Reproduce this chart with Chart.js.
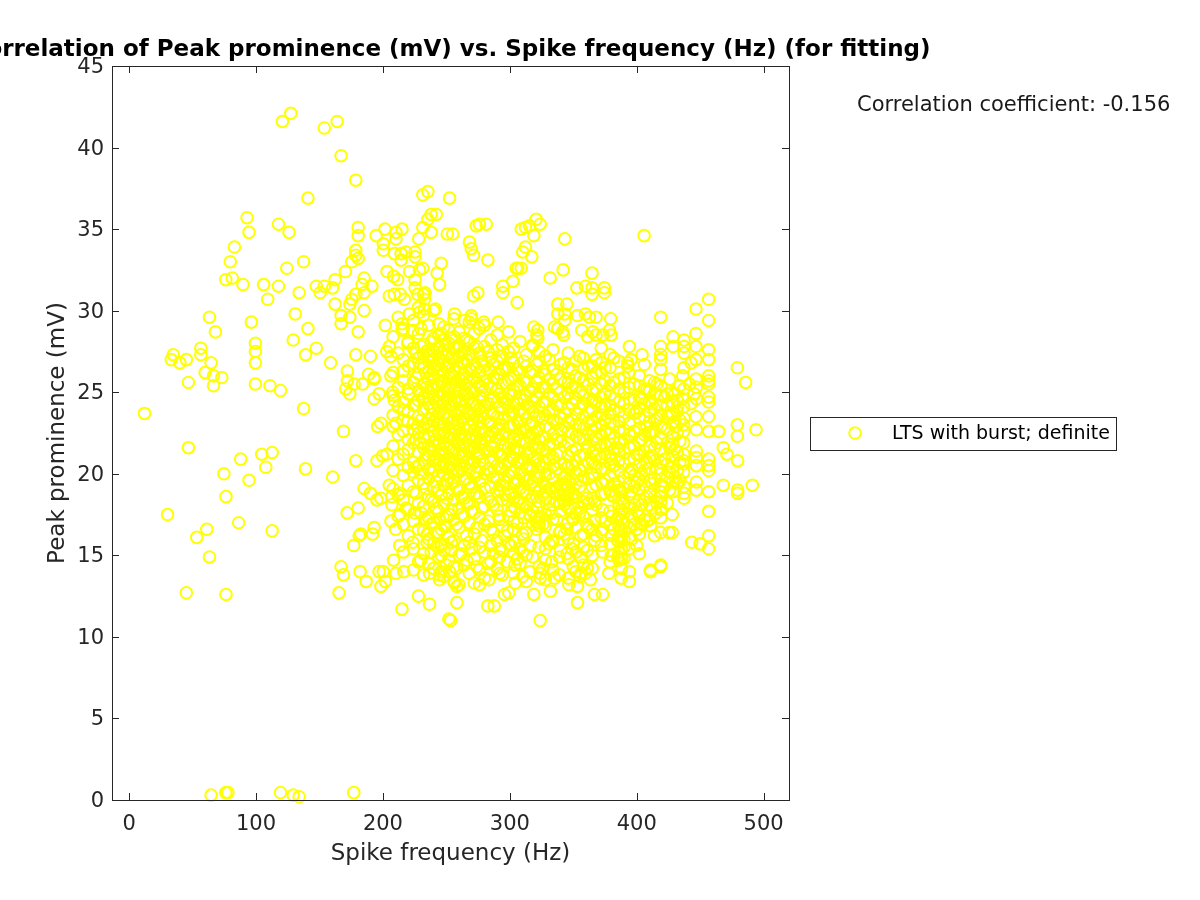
<!DOCTYPE html>
<html><head><meta charset="utf-8">
<style>html,body{margin:0;padding:0;background:#fff}canvas{display:block}</style>
<script src="https://cdn.jsdelivr.net/npm/chart.js@4/dist/chart.umd.min.js"></script>
</head><body><canvas id="c" width="1200" height="900"></canvas>
<script>
const chartTitle = 'Correlation of Peak prominence (mV) vs. Spike frequency (Hz) (for fitting)';
const xLabel = 'Spike frequency (Hz)';
const yLabel = 'Peak prominence (mV)';
const seriesName = 'LTS with burst; definite';
const corrText = 'Correlation coefficient: -0.156';
const xTicks = [0,100,200,300,400,500];
const yTicks = [0,5,10,15,20,25,30,35,40,45];

// Scattered points at the outside of the cloud: [frequency, prominence]
const outerUpperLeft = [[127.4,42.1],[120.8,41.6],[153.8,41.2],[163.9,41.6],[167,39.5],[178.6,38],[140.9,36.9],[231.4,37.1],[235.4,37.3],[252.5,36.9],[92.9,35.7],[94.5,34.8],[117.7,35.3],[126,34.8],[83,33.9],[79.7,33],[137.5,33],[124.3,32.6],[76.2,31.9],[81.3,32],[89.7,31.6],[106,31.6],[117.7,31.5],[109.2,30.7],[134,31.1],[130.9,29.8],[140.9,28.9],[96.3,29.3],[63.3,29.6],[68,28.7],[99.5,28],[99.5,27.5],[99.5,26.8],[129.3,28.2],[147.5,27.7],[139,27.3],[158.8,26.8],[178.6,27.3],[190.2,27.2],[56.5,27.7],[56.5,27.3],[34.8,27.3],[33.2,27],[40,26.8],[45.1,27],[64.6,26.8],[59.9,26.2],[66.5,26],[73,25.9],[46.7,25.6],[66.5,25.4],[99.5,25.5],[111,25.4],[119.3,25.1],[137.5,24],[12.1,23.7],[168.9,22.6]];
const outerUpperMid = [[147.5,31.5],[150.6,31.1],[153.8,31.5],[160.4,31.4],[162.3,31.9],[170.4,32.4],[175.5,33],[178.6,33.7],[178.6,33.4],[180.5,33.2],[180.5,35.1],[180.5,34.6],[194.7,34.6],[201.6,35],[200.3,34.1],[200.3,33.7],[210.3,34.8],[210.3,34.4],[215,35],[228.2,34.4],[231.4,35.1],[235.4,35.6],[238,35.9],[242,35.9],[238,34.8],[250.7,34.7],[185.2,32],[191.3,31.5],[185.2,31.1],[178.6,31],[175.5,30.7],[173.9,30.4],[162.3,30.4],[167,29.7],[173.9,29.6],[167,29.2],[180.5,28.7],[185.2,30],[201.8,29.1],[183.6,31.6],[215,29.2],[215,28.8],[223.5,28.8],[219.5,28],[230,28.9],[241.4,30.1],[203.2,32.4],[208.4,32.1],[211.6,31.9],[205,30.9],[209,31],[213.7,31],[216.9,30.7],[220.8,29.8],[228.8,29.9],[232.7,30.1],[225.3,31.9],[225.3,31.4],[233.2,31.1],[227.4,31],[232.7,30.7],[245.9,32.9],[242.7,32.3],[244.6,31.6],[231.4,32.6],[228.8,32.5],[221,32.4],[209,33.5],[214.3,33.5],[218.2,33.6],[225.3,33.6],[225.3,33.3],[214.3,33.1],[205,27.8],[203,27.5],[206.3,27.2],[172,26.3],[172,25.7],[177.3,25.5],[183.9,25.5],[170.7,25.2],[173.9,24.9],[188.7,26.1],[193.1,25.9],[193.1,25.8],[193.1,24.6],[197,24.9],[209,24.5],[207.7,25],[206.3,26],[216.4,23.9],[198.4,23.1],[195.8,22.9],[210.3,23.1],[219.5,23.2],[227.4,22.9]];
const outerLowerLeft = [[46.7,21.6],[74.7,20],[87.9,20.9],[104.5,21.2],[112.7,21.3],[107.7,20.4],[94.5,19.6],[139,20.3],[160.4,19.8],[76.3,18.6],[178.6,20.8],[195.3,20.8],[199.7,21.1],[203.2,21.2],[30.3,17.5],[61.2,16.6],[53.3,16.1],[86.3,17],[112.7,16.5],[63.3,14.9],[45.1,12.7],[76.3,12.6],[64.6,0.3],[76.2,0.45],[77.8,0.45],[119.3,0.45],[129.3,0.3],[134,0.2],[177,0.45],[185.2,19.1],[190.2,18.8],[205,19.3],[195.3,18.4],[198.4,18.5],[207,18.6],[207,18.1],[213.4,18.8],[180.5,17.9],[171.8,17.6],[218.2,17.9],[213.7,17.5],[224.8,17.6],[206.3,17.1],[210,16.6],[193.1,16.7],[191.8,16.3],[182.6,16.3],[181.3,16.2],[177,15.6],[213.2,15.6],[223.5,15.8],[234.8,16.3],[234.8,15.8],[208.4,14.7],[167,14.3],[168.9,13.8],[182,14],[197,14],[200.2,14],[210.3,13.9],[216.4,14],[201.8,13.4],[198.4,13.1],[186.8,13.4],[165.4,12.7],[229.8,14.7],[236.7,13.9],[245.9,14],[244.6,13.8],[244.6,13.5],[228,12.5],[236.7,12],[215,11.7],[252,11.1],[245.9,15.6],[243.3,15.5],[245.9,15],[253.8,15.3],[252.5,14],[256.5,13.3],[238,16.9],[244.6,17.2],[249.9,16.8],[245.9,16.6]];
const outerUpperRight = [[255,34.7],[276,35.3],[273.5,35.2],[281.4,35.3],[268.2,34.2],[269.6,33.8],[271.4,33.4],[282.7,33.1],[309,35],[312.3,35.1],[315.5,35.2],[320.7,35.6],[323.9,35.3],[318.9,34.6],[343.3,34.4],[405.8,34.6],[312.3,33.9],[310.2,33.6],[317.3,33.3],[306.3,32.6],[305,32.6],[309,32.6],[302.4,31.8],[294.5,31.5],[294.5,31.1],[274.8,31.1],[271.4,30.9],[305.8,30.5],[331.8,32],[342,32.5],[364.8,32.3],[352.8,31.4],[359.6,31.5],[364.8,31.4],[364.8,31],[374.5,31.4],[374.5,31.1],[337.8,30.4],[344.9,30.4],[337.8,29.8],[343.3,29.8],[343.3,29.4],[353.3,29.7],[359.6,29.8],[362.7,29.6],[368,29.6],[379.5,29.5],[418.9,29.6],[446.7,30.1],[456.7,30.7],[456.7,29.4],[256.4,29.8],[269.6,29.7],[264.3,29.4],[269.6,29.5],[279.5,29.3],[290.8,29.3],[318.9,29],[322,28.8],[321.3,28.5],[322,28.3],[318.1,27.9],[335.2,29],[337.8,28.9],[341.7,28.7],[342.5,28.5],[356.7,28.8],[378.5,28.8],[379.8,28.5],[365.4,28.7],[361.4,28.4],[368,28.5],[373.2,28.5],[428.6,28.4],[437.3,28.2],[437.3,27.8],[437.3,27.4],[446.7,28.6],[446.7,27.8],[456.7,27.6],[456.7,27],[428.6,27.8],[418.9,27.8],[418.9,27.3],[418.9,27],[418.9,26.4],[394.2,27.8],[404.2,27.3],[395.5,27],[392.9,26.8],[392.9,26.6],[446.7,27],[442.8,26.8],[437.3,26.5],[436.2,26],[446.7,25.8],[456.7,26],[456.7,25.7],[456.7,25.5],[479.3,26.5],[485.8,25.6],[479.3,23],[479.3,22.3],[494,22.7],[456.7,24.7],[456.7,24.4],[456.7,23.5],[446.7,23.5],[456.7,22.6],[464.6,22.6],[441.5,25.5],[445.4,24.9],[442.8,24.3],[436.2,24.6],[432.3,24.1],[437.3,23.4],[431,22.9]];
const outerLowerRight = [[468.2,21.6],[471.1,21.2],[479.5,20.8],[456.7,20.9],[456.7,20.5],[456.7,20.2],[468.2,19.3],[479.5,19],[479.5,18.8],[491.1,19.3],[456.7,18.9],[456.7,17.7],[456.7,16.2],[456.7,15.4],[443.3,15.8],[449.9,15.7],[437.3,19.2],[437.3,18.8],[437.3,18.5],[428.6,18.9],[418.9,18.6],[418.9,18.9],[418.9,17.3],[415.2,17.6],[410.8,16.8],[418.9,16.4],[425.5,16.4],[418.9,14.4],[418.9,14.3],[410.8,14.1],[410.8,14],[394.2,14],[394.2,13.4],[387.7,13.6],[378,13.9],[373.2,12.6],[366.7,12.6],[353.3,12.1],[363.5,13.5],[359.6,13.9],[354.9,13.7],[353.3,13.1],[346.5,13.2],[332,12.8],[335.2,13.6],[318.9,12.6],[323.9,11],[323.9,13.9],[323.9,13.6],[304.2,13.3],[299.2,12.7],[295.8,12.6],[287.7,11.9],[282.7,11.9],[258.3,12.1],[253.3,11],[258.3,13.1],[276.1,13.2],[283.5,13.5]];

// Dense core of the cloud, read column by column: one frequency, many prominences
const coreFreqs = [208,212,216,220,224,228,232,236,240,244,248,252,256,260,264,268,272,276,280,285,290,294,299,303,308,313,318,323,328,334,340,346,352,358,365,372,379,386,390,394,402,410,419,428,437,447];
const coreProms = [
[28.4,26.2,24.8,23.6,22.9,21.7,20.2,19.1],
[29.6,27.4,25.3,24.1,22.4,20.9,18.7,17.4],
[28.9,27,26.3,25.7,24.4,23.3,22.6,21.2,19.9,18.4,16.9,15.2],
[28.1,26.6,25.2,24.9,23.8,22.1,21.5,20.4,19.3,17.8,16.2],
[29.4,27.7,26.8,25.6,24.2,23.1,22.7,21.9,20.7,20.1,18.9,17.1,15.4,14.1],
[30.2,28.6,27.1,26.1,25.1,24.5,23.5,22.5,21.3,20.5,19.6,18.2,16.6,14.6],
[31,29.7,27.9,27.3,26.5,25.5,24.7,23.9,22.8,22.2,21.6,20.8,19.4,18,16.5,15.1,13.8],
[29.1,27.6,27.2,26.9,26.3,25.8,25,24.3,23.4,22.9,22.3,21.7,21.1,20.3,19.7,18.6,17.3,16,14.5],
[30,28.3,27.5,27,26.4,25.9,25.2,24.6,24,23.2,22.6,22,21.4,20.9,20.2,19.2,18.3,17,15.7,14.2],
[29.2,28.5,27.8,27.1,26.7,26,25.4,24.8,24.1,23.7,23,22.4,21.8,21.2,20.6,19.9,19,17.7,16.4,14.9],
[29,28.2,27.6,26.9,26.2,25.7,25,24.4,23.6,23.1,22.5,21.9,21.3,20.7,20,19.3,18.1,16.8,15.3,13.7],
[28.8,28,27.4,26.6,25.9,25.3,24.7,24.2,23.5,22.8,22.2,21.6,21,20.4,19.8,18.8,17.5,16.1,14.7],
[29.5,28.4,27.7,27,26.3,25.6,25.1,24.5,23.8,23.3,22.7,22.1,21.5,20.8,20.3,19.5,18.4,17.2,15.9,14.3,13.4],
[28.7,27.9,27.2,26.5,25.8,25.2,24.4,23.9,23,22.4,21.8,21.3,20.6,20.1,19,17.9,16.7,15,13.2],
[28.3,27.5,26.8,26.1,25.5,24.9,24.1,23.4,22.8,22.3,21.7,21.1,20.5,19.6,18.5,17.4,15.6,14.4],
[29.3,28.1,27.3,26.4,25.6,24.6,23.7,22.9,22.2,21.4,20.9,20.2,19.4,18.2,17,15.8,13.9],
[28.6,27.7,26.7,25.9,25,24.3,23.6,22.7,22,21.6,20.7,19.8,18.7,17.6,16.3,14.8,13.3],
[28.9,27.4,26.2,25.4,24.8,24,23.2,22.5,21.9,21.2,20.4,19.5,18.6,17.3,15.5,14.1],
[29.1,27.8,26.6,25.7,25.1,24.2,23.4,22.6,22.1,21.5,20.6,20,19.1,18,16.9,15.2,13.6],
[28.2,27.1,26.3,25.3,24.5,23.8,23.1,22.3,21.7,20.8,20.1,19.2,18.3,16.6,15.6,14.6],
[28.5,27.6,26.9,25.8,25.2,24.4,23.5,22.8,22.2,21.3,20.5,19.7,18.9,17.8,15.9,14.2],
[27.9,27.2,26.4,25.5,24.7,24,23.3,22.4,21.8,21.1,20.3,19.3,18.4,16.8,15.3,13.8],
[28.7,27.5,26.5,25.7,24.9,24.1,23.6,22.9,22.3,21.6,20.7,19.9,18.7,17.4,15.7],
[27.7,26.8,26,25.1,24.3,23.7,23,22.2,21.5,21,20.2,19.4,18.5,17.1,16.6,15.1,13.9],
[28.1,26.2,25.4,24.6,23.9,23.2,22.7,22,21.4,20.8,20,19.1,18.2,17.6,15.4,14.5],
[27.3,26.6,25.6,24.8,24.2,23.4,22.6,21.9,21.2,20.4,19.6,18.8,18,16.4,15,13.4],
[27.8,26.3,25.2,24.5,23.8,23.1,22.5,21.7,20.9,20.3,19.5,18.6,17.7,16.9,14.9],
[27.5,26.9,25.9,25,24.1,23.5,22.8,22.1,21.6,20.6,19.8,19,18.3,17.3,16.8,17,15.5,14.3],
[27.2,26.1,25.3,24.4,23.6,22.9,22.2,21.4,20.7,19.9,19.2,18.5,17.5,16.1,14.7],
[27.6,26.4,25.5,24.7,23.9,23.3,22.4,21.8,21,20.5,19.7,18.9,18.1,17.2,15.8,14.1],
[26.7,25.8,25,24.2,23.4,22.7,22,21.3,20.6,20,19.3,18.7,18.2,17.7,16.5,15.3],
[27.4,26.5,25.6,24.9,24,23.2,22.6,21.9,21.1,20.4,19.6,19.1,18.8,18.4,17.9,17,16,14.8,13.6],
[26.9,26,25.3,24.6,23.7,23,22.3,21.5,20.8,20.1,19.4,18.6,17.6,16.7,15.2,14],
[27.1,26.4,25.7,24.8,24.3,23.5,22.8,22.1,21.2,20.5,19.8,18.3,17.4,16.3,15.5,14.4],
[26.6,25.9,25.1,24.5,23.9,23.3,22.7,22,21.3,20.7,20,19.2,18.5,17.8,16.6,15,14.2],
[27.7,26.8,26.2,25.5,24.7,24.1,23.6,23,22.4,21.7,21,20.3,19.5,18.7,17.3,16.4,15.6],
[27.3,26.5,25.4,24.8,24.2,23.7,23.1,22.5,21.8,21.1,20.6,19.9,18.9,17.7,16.9,15.7,14.6],
[26.9,25.8,25.2,24.4,23.8,23.2,22.6,21.9,21.4,20.8,20.2,19.5,19,18.5,18,17.5,16.8,16.2,15.8,15.2,14.7],
[25.9,25,24.3,23.5,22.7,22.1,21.3,20.6,19.8,19.1,18.2,17.6,17,16.5,16,15.5,14.8],
[26.2,25.3,24.6,23.9,23.1,22.4,21.6,20.9,20.1,19.4,18.7,17.9,16.7,16.1,15.4],
[26,25.4,24.7,24,23.4,22.8,22,21.2,20.5,19.7,19,18.4,17.4,16.3,15.1],
[25.7,25.1,24.5,23.8,23.2,22.5,21.7,21,20.3,19.6,18.9,18.1,17.2],
[25.4,24.8,24.2,23.6,22.9,22.2,21.5,20.7,20,19.3,18.3,17.8],
[25,24.4,23.7,23.1,22.3,21.8,21.1,20.4,19.5,17.5,16.4],
[25.2,24.1,23,22.6,21.9,21.2,20.8,20.6,20.1],
[25.3,24.6,22.7,21.4,21,20.5,19.5,19]
];
// Second reading of the core between the columns above
const fillFreqs = [226,230,234,238,242,246,250,254,258,262,266,270,274,278,283,287,292,296,301,306,311,316,321,326,331,337,343,349,355,362,368,375,382,398,406,414,424,432];
const fillProms = [
[27.4,25.9,24.2,22.1,20.4,18.8],
[27.8,26.7,24.9,23.3,21.9,20,17.6],
[27.5,26.2,25.3,23.1,21.2,19.1,17.2],
[28.1,27.3,26.1,25.4,24.1,23,21.5,20.1,18.4,15.2],
[27.7,26.6,25.5,24.4,23.5,22.1,21,19.5,17.9,16.4],
[28.6,27.4,26.4,25.6,24.9,23.9,22.7,21.5,20.4,18.7,15.7],
[27.9,27.2,26.5,25.2,24.6,23.4,22.3,21.7,20.5,19.6,18.5,17.4,14.4],
[28.3,27.1,26.1,25.5,24.3,23.2,22.4,21.4,20.6,19.4,17.8,15.8],
[27.7,26.6,25.4,24.7,23.6,22.6,21.9,20.9,20.2,19.1,16.9,14.2],
[27.4,26.8,25.7,24.5,23.9,22.5,22.1,21.1,20.3,18.6,17.5,15.1],
[28.2,27,25.9,24.9,23.7,22.7,21.6,20.7,19.7,18.2,16.2,14.7],
[27.3,26.3,25.1,24.4,23.3,22.4,21.5,20.6,19.2,17.7,15.4],
[27.8,26.5,25.6,24.2,23.5,22.2,21.2,20.1,18.8,16.7,14.3],
[26.9,25.3,24.6,23.8,22.8,21.9,20.8,19.6,17.9,15.9],
[27.5,26.4,25.5,24.3,23.1,22.3,21.4,20.3,18.5,17.1,14.5],
[26.7,25.9,24.7,23.6,22.6,21.6,20.9,19.8,18.1,16.4,15.1],
[27.2,26.1,24.9,24.1,23,22.1,21.1,20.4,19,17.4,14.9],
[26.5,25.6,24.4,23.4,22.5,21.7,20.6,19.5,18.7,16.2],
[27.1,25.8,24.8,23.8,22.9,21.8,21,20.1,18.8,17.7,15.6],
[26.4,25.4,24.3,23.2,22.4,21.5,20.7,19.6,18.3,17,14.8],
[26.9,25.7,24.5,23.7,22.7,21.9,20.9,19.7,18.9,17.3,16],
[26.2,25.1,24.1,23,22.2,21.3,20.5,19.3,18.4,17.5],
[26.7,25.6,24.7,23.6,22.6,21.6,20.8,19.8,18.6,17.9,17.4,17,16.6],
[26.3,25.3,24.4,23.4,22.3,21.5,20.4,19.5,18.7,16.9,14.2],
[27,25.8,24.9,23.8,22.8,21.8,20.9,20,19.1,17.8,15.7],
[26.1,25.2,24.2,23.1,22.1,21.2,20.3,19.2,18.3,17.2],
[26.8,25.6,24.7,23.7,22.9,21.7,20.6,19.8,19.4,19,18.7,18.4,18.1,16.3],
[26.4,25.3,24.3,23.3,22.5,21.4,20.5,19.6,18.5,17.3,15.4],
[27.2,25.9,25,24,23,22.2,21.1,20.2,19.2,17.6],
[26.6,25.5,24.6,23.8,23.2,22.4,21.6,20.7,19.7,18.2,16.7],
[27,26.2,25.2,24.4,23.5,22.8,22.3,21.9,21.5,21.1,20.4,19.3,18.1,16.2],
[26.5,25.7,24.9,24.1,23.3,22.6,21.8,21.2,20.3,19.6,18.8,17.1],
[27.1,25.6,24.6,23.9,23,22.2,21.5,20.5,19.4,18.6,16.6],
[25.5,24.5,23.7,22.6,21.7,20.9,19.9,19.2,18.1,16.9],
[26.7,25.2,24.3,23.5,22.4,21.4,20.2,19.3,18.5,17.2],
[25.6,24.9,24,23.3,22.6,21.6,20.8,19.7,18.6,16.2],
[24.9,24.2,23.5,22.7,21.9,20.6,19.8,18.2],
[24.5,23.8,22.5,21.3,20.2,19.4]
];
// Third reading: the lower and right parts of the cloud
const lowerFreqs = [292,298,304,310,316,328,333,339,345,350,356,361,367,373,380,385,388,396,400,404,408,412,416,422,426,430,434];
const lowerProms = [
[19.3,17.2,15.4,13.9],[18.4,16.5,14.6],[19.5,17.9,15.8,14.4],[18.1,16.3,15.2,13.7],[19.7,17.4,15.6,14],
[18.9,16.8,15.4,13.5],[19.1,17.6,15.9,14.6],[18.2,16.4,14.9,13.8],[20.4,19.9,19.3,18.6,16.6,15.1],[18.8,17.2,15.7,14.3],
[19.6,17.9,16.2,14.9,13.9],[18.5,16.9,15.3,14.2],[20.6,18.3,17.1,15.9],[19.4,17.8,16.6,15.2],[20.9,18.7,17.4,16.2,15],
[21.6,19.2,17.3,15.9,14.9],[18.9,18.4,17.8,17.2,16.6,16,15.4,14.8,14.2],[22.3,20.3,18.9,17.4,16],[23.8,21.2,19.5,17.7,16.6,15.6],[24.6,22.1,20,18.1,16.9],
[25.2,22.9,20.7,18.6,17.1],[24.3,22.6,21.1,19.4,17.9],[25.5,23.4,21.9,20.3,18.2],[24.7,22.8,20.9,19.2],[25.8,23.6,21.6,20.1,19],[24.9,23.2,21.5,19.8],[25.4,23.3,22,20.7,19.6]
];

const outerPoints = [...outerUpperLeft, ...outerUpperMid, ...outerLowerLeft, ...outerUpperRight, ...outerLowerRight];
const columnPoints = (freqs, proms) => freqs.flatMap((f, i) => proms[i].map(p => ({x: f, y: p})));
const points = [...outerPoints.map(([x, y]) => ({x, y})), ...columnPoints(coreFreqs, coreProms), ...columnPoints(fillFreqs, fillProms), ...columnPoints(lowerFreqs, lowerProms)];

const INK = '#262626';
const FONT = '"DejaVu Sans"';
const frame = {
  id: 'frame',
  afterDraw(chart) {
    const {ctx, chartArea: a, scales} = chart;
    ctx.save();
    ctx.strokeStyle = INK; ctx.lineWidth = 1;
    ctx.strokeRect(a.left + .5, a.top + .5, a.right - a.left, a.bottom - a.top);
    ctx.beginPath();
    for (const t of xTicks) {
      const p = Math.round(scales.x.getPixelForValue(t)) + .5;
      ctx.moveTo(p, a.bottom); ctx.lineTo(p, a.bottom - 7);
      ctx.moveTo(p, a.top); ctx.lineTo(p, a.top + 7);
    }
    for (const t of yTicks) {
      const p = Math.round(scales.y.getPixelForValue(t)) + .5;
      ctx.moveTo(a.left, p); ctx.lineTo(a.left + 7, p);
      ctx.moveTo(a.right, p); ctx.lineTo(a.right - 7, p);
    }
    ctx.stroke();
    // title, wider than the plot and cut off by the left of the page
    ctx.fillStyle = '#000'; ctx.font = `bold 23px ${FONT}`;
    ctx.textAlign = 'center'; ctx.textBaseline = 'alphabetic';
    ctx.fillText(chartTitle, 450, 56);
    // correlation note
    ctx.fillStyle = '#1a1a1a'; ctx.font = `21px ${FONT}`; ctx.textAlign = 'left';
    ctx.fillText(corrText, 857, 111);
    // legend box
    ctx.strokeStyle = INK; ctx.strokeRect(810.5, 417.5, 306, 33);
    ctx.strokeStyle = '#ffff00'; ctx.lineWidth = 2;
    ctx.beginPath(); ctx.arc(855, 433, 5.8, 0, Math.PI * 2); ctx.stroke();
    ctx.fillStyle = '#000'; ctx.font = `19px ${FONT}`;
    ctx.fillText(seriesName, 892, 439);
    ctx.restore();
  }
};

new Chart(document.getElementById('c'), {
  type: 'scatter',
  data: {datasets: [{label: seriesName, data: points, backgroundColor: 'rgba(0,0,0,0)', borderColor: '#ffff00', borderWidth: 2, pointRadius: 5.8, pointHoverRadius: 5.8, clip: false}]},
  options: {
    responsive: false, animation: false, events: [],
    layout: {padding: {left: 0, top: 66, right: 411, bottom: 0}},
    plugins: {legend: {display: false}, title: {display: false}, tooltip: {enabled: false}},
    scales: {
      x: {
        type: 'linear', min: -13.5, max: 520,
        afterBuildTicks(s) { s.ticks = xTicks.map(value => ({value})); },
        afterFit(s) { s.height = 100; },
        grid: {display: false}, border: {display: false},
        ticks: {color: INK, font: {family: FONT, size: 21}, maxRotation: 0, autoSkip: false, padding: 4},
        title: {display: true, text: xLabel, color: INK, font: {family: FONT, size: 23}, padding: {top: 2, bottom: 32}}
      },
      y: {
        type: 'linear', min: 0, max: 45,
        afterBuildTicks(s) { s.ticks = yTicks.map(value => ({value})); },
        afterFit(s) { s.width = 112; },
        grid: {display: false}, border: {display: false},
        ticks: {color: INK, font: {family: FONT, size: 21}, autoSkip: false, padding: 0, labelOffset: 1.5},
        title: {display: true, text: yLabel, color: INK, font: {family: FONT, size: 23}, padding: {top: 44, bottom: 0}}
      }
    }
  },
  plugins: [frame]
});
</script></body></html>
